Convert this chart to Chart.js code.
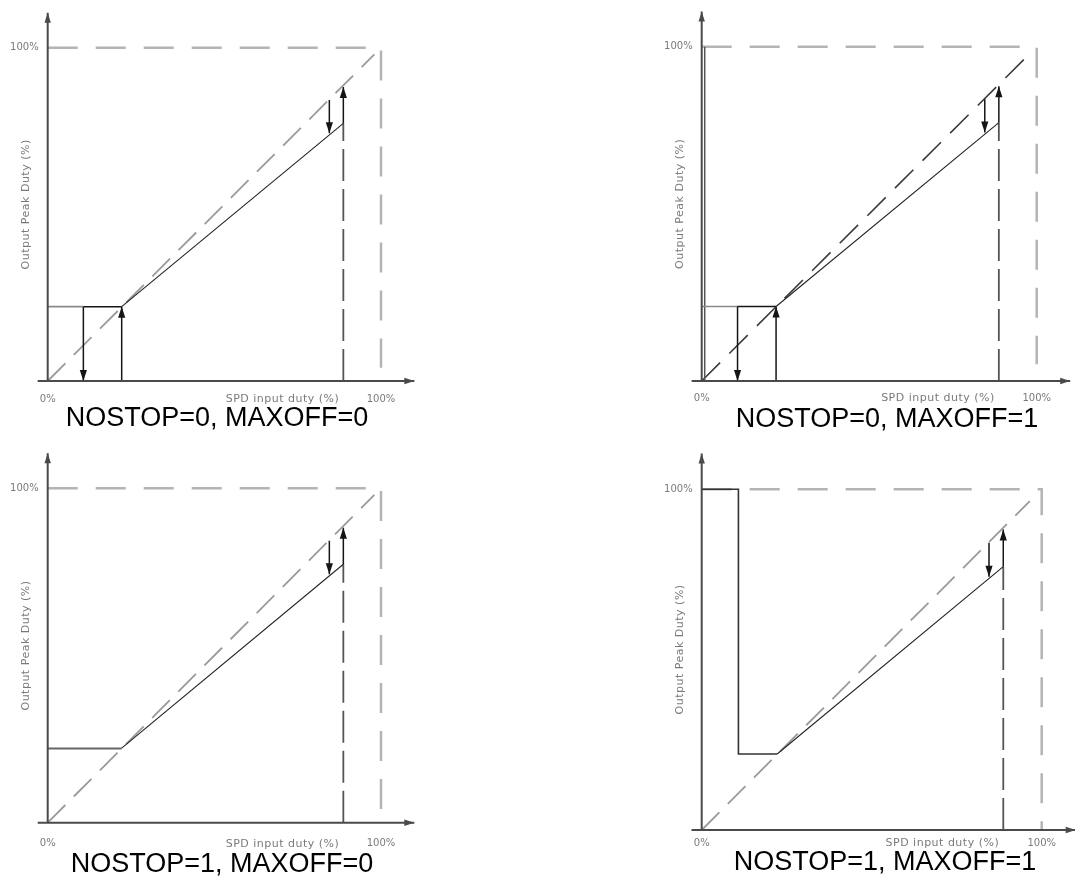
<!DOCTYPE html>
<html>
<head>
<meta charset="utf-8">
<script src="https://cdn.jsdelivr.net/npm/chart.js@4/dist/chart.umd.min.js"></script>
<style>
  html, body { margin: 0; padding: 0; background: #fff; width: 1075px; height: 885px; overflow: hidden; }
  .panel { position: absolute; }
  .caption { position: absolute; width: 420px; text-align: center; font: 27px "Liberation Sans", Arial, sans-serif; line-height: 27px; color: #000; white-space: nowrap; }
</style>
</head>
<body>
<script>
// 4 diagrammes NOSTOP / MAXOFF, valeurs en %

const captions = ['NOSTOP=0, MAXOFF=0', 'NOSTOP=0, MAXOFF=1', 'NOSTOP=1, MAXOFF=0', 'NOSTOP=1, MAXOFF=1'];
const xTickValues = [0, 100];
const xTickLabels = ['0%', '100%'];
const yTickValues = [100];
const yTickLabels = ['100%'];
const xAxisTitle = 'SPD input duty (%)';
const yAxisTitle = 'Output Peak Duty (%)';

// axes
const xAxisLine = [{x: -3, y: 0}, {x: 110, y: 0}];
const yAxisLine = [{x: 0, y: 0}, {x: 0, y: 110.5}];

// cadre 100% en pointillés (bas du trait droit selon le panneau)
const frameBottom = [4, 5, 4, 0];
// diagonale sortie = entrée
const diagonalEnd = [98, 97.5, 98, 96.5];

// partie haute (coupure max)
const maxCutLine = [{x: 88.7, y: 0}, {x: 88.7, y: 77.3}];
const slopeLine = [{x: 22.2, y: 22.3}, {x: 88.7, y: 77.3}];
const upArrowHigh = [{x: 88.7, y: 77.3}, {x: 88.7, y: 88.2}];
const downArrowHigh = [{x: 84.5, y: 84.3}, {x: 84.5, y: 74.3}];

// hystérésis bas (NOSTOP=0)
const startLevel = [{x: 0, y: 22.3}, {x: 10.7, y: 22.3}];
const hystTop = [{x: 10.7, y: 22.3}, {x: 22.2, y: 22.3}];
const downArrowLow = [{x: 10.7, y: 22.3}, {x: 10.7, y: 0}];
const upArrowLow = [{x: 22.2, y: 0}, {x: 22.2, y: 22.3}];

// MAXOFF=1 / NOSTOP=1
const maxOffBar = [{x: 0.9, y: 0}, {x: 0.9, y: 100}];
const minHold = [{x: 0, y: 22.2}, {x: 22.2, y: 22.2}];
const maxOffStep = [{x: 0, y: 100}, {x: 10.8, y: 100}, {x: 10.8, y: 22.3}, {x: 22.2, y: 22.3}];

// position des panneaux à l'écran (origine en px, px par %)
const layout = [
  {ox: 47.7, oy: 381, sx: 3.333, sy: 3.333, labelDy: 18, capX: 217, capBase: 426.7},
  {ox: 701.7, oy: 381, sx: 3.35, sy: 3.343, labelDy: 17, capX: 887, capBase: 427.7},
  {ox: 47.7, oy: 822.7, sx: 3.333, sy: 3.344, labelDy: 21, capX: 222, capBase: 872.7},
  {ox: 701.7, oy: 830, sx: 3.4, sy: 3.407, labelDy: 13, capX: 885, capBase: 870.7}
];

function seg(data, color, width, dash, arrow){
  return {
    data: data,
    showLine: true,
    borderColor: color,
    backgroundColor: color,
    borderWidth: width,
    borderDash: dash || [],
    borderCapStyle: 'butt',
    pointRadius: 0,
    fill: false,
    clip: false,
    arrowHead: arrow || null
  };
}

function buildDatasets(p){
  const head = {len: 11, hw: 3.6};
  const axisHead = {len: 10, hw: 3.2};
  const black = '#151515';
  const list = [
    seg(xAxisLine, '#4a4a4a', 2, null, axisHead),
    seg(yAxisLine, '#4a4a4a', 2, null, axisHead),
    seg(upArrowHigh, black, 1.5, null, head),
    seg(downArrowHigh, black, 1.5, null, head),
    seg(slopeLine, '#222', 1.1)
  ];
  if(p === 0 || p === 1){
    list.push(seg(downArrowLow, black, 1.5, null, head));
    list.push(seg(upArrowLow, black, 1.5, null, head));
    list.push(seg(hystTop, black, 1.5));
    list.push(seg(startLevel, '#8a8a8a', 1.6));
  }
  if(p === 1) list.push(seg(maxOffBar, '#555', 1.5));
  if(p === 2) list.push(seg(minHold, '#666', 2));
  if(p === 3) list.push(seg(maxOffStep, '#333', 1.6));

  list.push(seg(maxCutLine, '#555', 1.8, [32, 8]));
  const diag = [{x: 0, y: 0}, {x: diagonalEnd[p], y: diagonalEnd[p]}];
  if(p === 1) list.push(seg(diag, '#3a3a3a', 1.6, [26, 13]));
  else list.push(seg(diag, '#9a9a9a', 1.8, [25, 12]));
  const frame = [{x: 0, y: 100}, {x: 100, y: 100}, {x: 100, y: frameBottom[p]}];
  list.push(seg(frame, '#b4b4b4', 2.5, [30, 18]));
  return list;
}

const arrowHeads = {
  id: 'arrowHeads',
  afterDatasetsDraw(chart){
    const ctx = chart.ctx;
    chart.data.datasets.forEach((ds, i) => {
      if(!ds.arrowHead) return;
      const pts = chart.getDatasetMeta(i).data;
      const a = pts[pts.length - 2], b = pts[pts.length - 1];
      const ang = Math.atan2(b.y - a.y, b.x - a.x);
      ctx.save();
      ctx.translate(b.x, b.y);
      ctx.rotate(ang);
      ctx.beginPath();
      ctx.moveTo(0, 0);
      ctx.lineTo(-ds.arrowHead.len, -ds.arrowHead.hw);
      ctx.lineTo(-ds.arrowHead.len, ds.arrowHead.hw);
      ctx.closePath();
      ctx.fillStyle = ds.borderColor;
      ctx.fill();
      ctx.restore();
    });
  }
};

const panelText = {
  id: 'panelText',
  afterDraw(chart, args, opts){
    const ctx = chart.ctx;
    const xs = chart.scales.x, ys = chart.scales.y;
    const x0 = xs.getPixelForValue(0), y0 = ys.getPixelForValue(0);
    ctx.save();
    ctx.fillStyle = '#7a7a7a';
    ctx.font = '10px "DejaVu Sans", sans-serif';
    ctx.textBaseline = 'middle';
    ctx.textAlign = 'center';
    xTickValues.forEach((v, i) => ctx.fillText(xTickLabels[i], xs.getPixelForValue(v), y0 + opts.labelDy));
    ctx.textAlign = 'right';
    yTickValues.forEach((v, i) => ctx.fillText(yTickLabels[i], x0 - 9, ys.getPixelForValue(v)));

    ctx.font = '11px "DejaVu Sans", sans-serif';
    ctx.letterSpacing = '0.5px';
    ctx.textAlign = 'right';
    ctx.fillText(xAxisTitle, xs.getPixelForValue(87.5), y0 + opts.labelDy);
    ctx.translate(x0 - 22, ys.getPixelForValue(53));
    ctx.rotate(-Math.PI / 2);
    ctx.textAlign = 'center';
    ctx.fillText(yAxisTitle, 0, 0);
    ctx.restore();
  }
};

layout.forEach((L, p) => {
  const left = Math.floor(L.ox - 14 * L.sx);
  const top = Math.floor(L.oy - 112 * L.sy);
  const w = Math.ceil(126 * L.sx);
  const h = Math.ceil(120 * L.sy);

  const wrap = document.createElement('div');
  wrap.className = 'panel';
  wrap.style.left = left + 'px';
  wrap.style.top = top + 'px';
  const cv = document.createElement('canvas');
  cv.width = w; cv.height = h;
  cv.style.width = w + 'px'; cv.style.height = h + 'px';
  wrap.appendChild(cv);
  document.body.appendChild(wrap);

  new Chart(cv.getContext('2d'), {
    type: 'scatter',
    data: { datasets: buildDatasets(p) },
    options: {
      responsive: false,
      animation: false,
      devicePixelRatio: 1,
      layout: { padding: 0 },
      plugins: { legend: { display: false }, tooltip: { enabled: false }, panelText: { labelDy: L.labelDy } },
      scales: {
        x: { type: 'linear', display: false, min: (left - L.ox) / L.sx, max: (left + w - L.ox) / L.sx },
        y: { type: 'linear', display: false, min: (L.oy - top - h) / L.sy, max: (L.oy - top) / L.sy }
      }
    },
    plugins: [arrowHeads, panelText]
  });

  const cap = document.createElement('div');
  cap.className = 'caption';
  cap.textContent = captions[p];
  cap.style.left = (L.capX - 210) + 'px';
  cap.style.top = (L.capBase - 22.8) + 'px';
  document.body.appendChild(cap);
});
</script>
</body>
</html>
